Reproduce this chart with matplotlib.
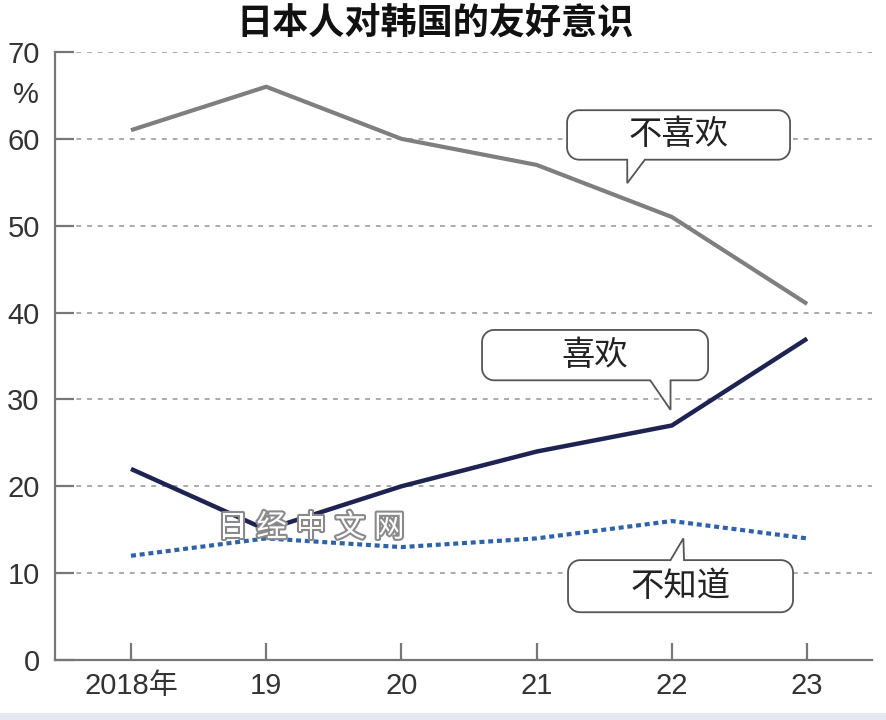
import matplotlib
matplotlib.use("Agg")
import matplotlib.pyplot as plt
import matplotlib.patheffects as pe
from matplotlib.path import Path
from matplotlib.patches import PathPatch, Rectangle
import numpy as np

plt.rcParams['font.family'] = ['Liberation Sans', 'Noto Sans CJK SC', 'DejaVu Sans']

years = ["2018年", "19", "20", "21", "22", "23"]
dislike = [61, 66, 60, 57, 51, 41]
like = [22, 15, 20, 24, 27, 37]
unknown = [12, 14, 13, 14, 16, 14]
y_ticks = [0, 10, 20, 30, 40, 50, 60, 70]

CJK = ['Noto Sans CJK SC', 'DejaVu Sans']


def bubble(ax, fig, box, base, tip, text, r=12):
    # box = (x0, x1, y0, y1) in data units; outline built in display pixels
    to_px = ax.transData.transform
    L, B = to_px((box[0], box[2]))
    R, T = to_px((box[1], box[3]))
    xa = to_px((base[0], 0))[0]
    xb = to_px((base[1], 0))[0]
    tx, ty = to_px(tip)

    def arc(cx, cy, a0, a1):
        a = np.radians(np.linspace(a0, a1, 10))
        return list(zip(cx + r * np.cos(a), cy + r * np.sin(a)))

    pts = [(L + r, B)]
    if ty < B:
        pts += [(xa, B), (tx, ty), (xb, B)]
    pts += arc(R - r, B + r, -90, 0)
    pts += arc(R - r, T - r, 0, 90)
    if ty > T:
        pts += [(xb, T), (tx, ty), (xa, T)]
    pts += arc(L + r, T - r, 90, 180)
    pts += arc(L + r, B + r, 180, 270)
    pts.append(pts[0])

    W, H = fig.bbox.width, fig.bbox.height
    pts = [(x / W, y / H) for x, y in pts]
    codes = [Path.MOVETO] + [Path.LINETO] * (len(pts) - 2) + [Path.CLOSEPOLY]
    patch = PathPatch(Path(pts, codes), facecolor="white", edgecolor="#555555",
                      lw=1.3, transform=fig.transFigure, zorder=5, clip_on=False)
    ax.add_artist(patch)
    ax.text((box[0] + box[1]) / 2, (box[2] + box[3]) / 2, text, family=CJK,
            fontsize=24, ha="center", va="center", color="#222222", zorder=6)


fig = plt.figure(figsize=(8.86, 7.2), dpi=100)
ax = fig.add_axes([55 / 886, 60 / 720, 817 / 886, 608 / 720])
x = np.arange(len(years))

ax.set_xlim(-0.562, 5.48)
ax.set_ylim(0, 70)

for v in y_ticks[1:]:
    ax.axhline(v, color="#aaaaaa", lw=1.4, ls=(0, (2.5, 3)), zorder=1)

ax.plot(x, dislike, color="#7f7f7f", lw=3, solid_capstyle="butt", zorder=3)
ax.plot(x, like, color="#1f2352", lw=3.2, solid_capstyle="butt", zorder=3)
ax.plot(x, unknown, color="#2f62a8", lw=3, ls=(0, (1.2, 0.9)), zorder=3)

for s in ["top", "right"]:
    ax.spines[s].set_visible(False)
for s in ["left", "bottom"]:
    ax.spines[s].set_color("#777777")
    ax.spines[s].set_linewidth(1.6)

ax.set_yticks(y_ticks)
ax.set_yticklabels([str(v) for v in y_ticks])
ax.set_xticks(x)
ax.set_xticklabels(years)
ax.tick_params(axis="y", direction="in", length=14, width=1.6, color="#777777",
               labelsize=21, pad=11, labelcolor="#333333")
ax.tick_params(axis="x", direction="in", length=12, width=1.6, color="#777777",
               labelsize=21, pad=9, labelcolor="#333333")

ax.text(-0.78, 65.0, "%", fontsize=21, color="#333333", ha="center", va="center",
        clip_on=False)

fig.text(435 / 886, 1 - 23 / 720, "日本人对韩国的友好意识", family=CJK,
         fontsize=26, fontweight="bold", ha="center", va="center", color="#111111")

# watermark, letters spread out like the original
for i, ch in enumerate("日经中文网"):
    ax.text(0.75 + i * 0.29, 15.2, ch, family=CJK, fontsize=22, color="white",
            ha="center", va="center", zorder=4,
            path_effects=[pe.withStroke(linewidth=3, foreground="#8a8a8a")])

bubble(ax, fig, (3.225, 4.874, 57.6, 63.3), (3.67, 3.80), (3.67, 54.9), "不喜欢")
bubble(ax, fig, (2.596, 4.268, 32.2, 38.0), (3.84, 3.99), (3.99, 28.8), "喜欢")
bubble(ax, fig, (3.232, 4.896, 5.5, 11.5), (3.99, 4.09), (4.085, 14.0), "不知道")

fig.add_artist(Rectangle((0, 0), 1, 7 / 720, transform=fig.transFigure,
                         facecolor="#e6e9f0", edgecolor="none"))

fig.savefig("out.png", dpi=100)
